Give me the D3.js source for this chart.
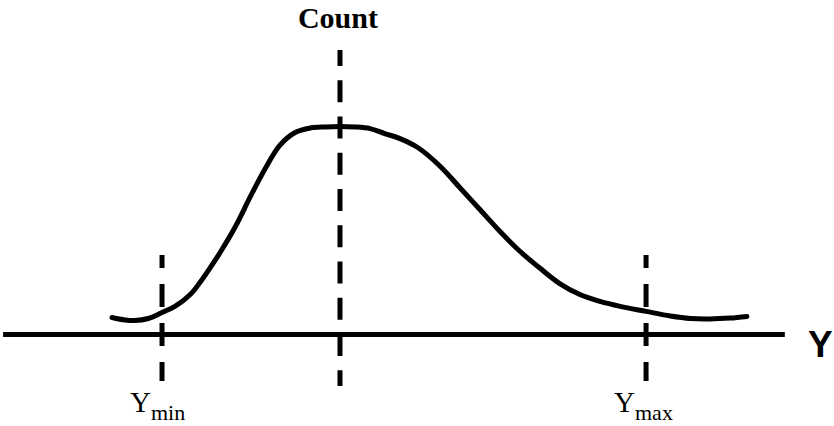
<!DOCTYPE html>
<html>
<head>
<meta charset="utf-8">
<script src="https://cdn.jsdelivr.net/npm/d3@7/dist/d3.min.js"></script>
<style>
  html, body { margin: 0; padding: 0; background: #fff; }
  svg { display: block; }
</style>
</head>
<body>
<svg id="chart" width="834" height="426"></svg>
<script>
// ---- data (arbitrary Y units, count as % of peak) ----
const curveY     = [13.8, 15.4, 16.6, 18.3, 20.0, 21.6, 23.5, 24.7, 25.9, 27.2, 29.1, 30.9, 32.8, 34.6, 36.5, 38.4, 40.2, 42.1, 43.9, 45.8, 47.6, 49.5, 51.7, 54.5, 56.9, 59.4, 61.9, 64.4, 66.9, 69.3, 71.8, 74.3, 76.8, 80.0, 83.0, 85.5, 87.9, 90.4, 92.5];
const curveCount = [8.2, 7.0, 6.7, 7.7, 10.6, 13.5, 19.2, 25.0, 31.7, 39.4, 51.9, 65.9, 79.8, 90.9, 97.1, 99.3, 99.8, 100, 99.8, 99.0, 96.6, 94.2, 89.9, 80.8, 70.7, 60.1, 49.5, 39.9, 31.7, 24.5, 19.2, 15.9, 13.5, 11.1, 8.9, 7.7, 7.5, 7.9, 8.7];

const axisExtent   = [0.3, 97.2];
const guideNames   = ["Ymin", "mean", "Ymax"];
const guideY       = [20, 42.06, 80];
const guideTop     = [38.2, 136.8, 38.2];
const guideBottom  = [-22.4, -24.8, -22.4];
const guideLabels  = [["Y", "min"], null, ["Y", "max"]];
const topLabel     = "Count";
const axisLabel    = "Y";

// ---- scales ----
const x = d3.scaleLinear().domain([0, 97]).range([0.67, 783.2]);
const y = d3.scaleLinear().domain([0, 100]).range([334.5, 126.5]);

const svg = d3.select("#chart");

// axis line
svg.append("line")
  .attr("x1", x(axisExtent[0])).attr("x2", x(axisExtent[1]))
  .attr("y1", y(0)).attr("y2", y(0))
  .attr("stroke", "#000").attr("stroke-width", 5);

// dashed guides
guideY.forEach((g, i) => {
  const isMid = i === 1;
  svg.append("line")
    .attr("x1", x(g)).attr("x2", x(g))
    .attr("y1", y(guideTop[i])).attr("y2", y(guideBottom[i]))
    .attr("stroke", "#000").attr("stroke-width", 5)
    .attr("stroke-dasharray", isMid ? "22 14.25" : "23 16")
    .attr("stroke-dashoffset", isMid ? 6 : 10);
});

// curve
const pts = curveY.map((v, i) => [v, curveCount[i]]);
svg.append("path")
  .datum(pts)
  .attr("d", d3.line().x(d => x(d[0])).y(d => y(d[1])).curve(d3.curveCatmullRom.alpha(0.5)))
  .attr("fill", "none")
  .attr("stroke", "#000")
  .attr("stroke-width", 5)
  .attr("stroke-linecap", "round")
  .attr("stroke-linejoin", "round");

// top label
svg.append("text")
  .attr("x", x(guideY[1]) - 2).attr("y", 28)
  .attr("text-anchor", "middle")
  .attr("font-family", "'Liberation Serif', 'Times New Roman', serif")
  .attr("font-weight", "bold")
  .attr("font-size", 30)
  .text(topLabel);

// axis label
svg.append("text")
  .attr("x", 808).attr("y", 357)
  .attr("font-family", "'Liberation Sans', Arial, sans-serif")
  .attr("font-weight", "bold")
  .attr("font-size", 37)
  .text(axisLabel);

// guide labels
guideLabels.forEach((lab, i) => {
  if (!lab) return;
  const t = svg.append("text")
    .attr("x", x(guideY[i]) - 32).attr("y", 412)
    .attr("font-family", "'Liberation Serif', 'Times New Roman', serif")
    .attr("font-size", 29);
  t.append("tspan").text(lab[0]);
  t.append("tspan").attr("font-size", 22).attr("dy", 8).text(lab[1]);
});
</script>
</body>
</html>
